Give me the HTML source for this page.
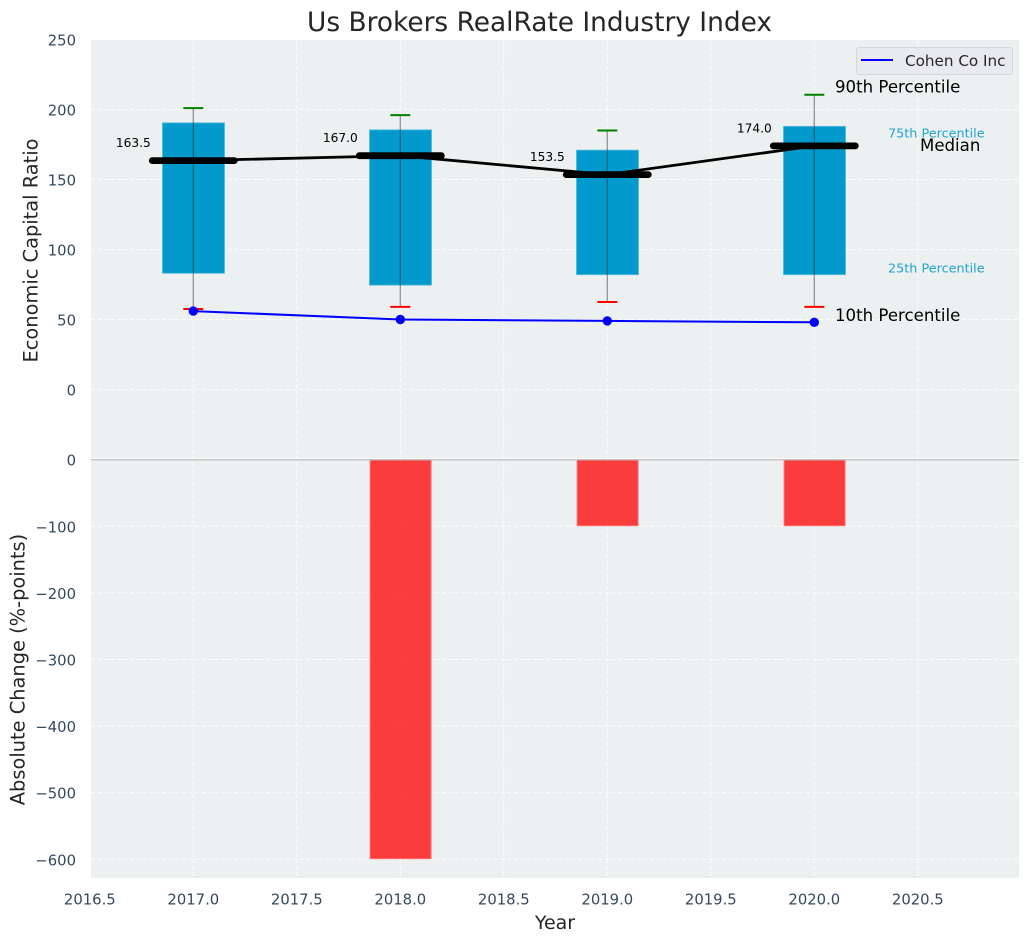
<!DOCTYPE html>
<html>
<head>
<meta charset="utf-8">
<title>Us Brokers RealRate Industry Index</title>
<style>
html,body{margin:0;padding:0;background:#fff;}
svg{display:block;font-family:"DejaVu Sans","Liberation Sans",sans-serif;}
</style>
</head>
<body>
<svg id="chart" xmlns="http://www.w3.org/2000/svg" width="1029" height="942" viewBox="0 0 1029 942">
  <rect x="0" y="0" width="1029" height="942" fill="#ffffff"/>
  <rect x="91" y="40" width="928" height="419.5" fill="#ecf0f1"/>
  <rect x="91" y="459.5" width="928" height="418.5" fill="#ecf0f1"/>
  <g id="grid"></g>
  <g id="ticks"></g>
  <g id="bars"></g>
  <g id="boxes"></g>
  <g id="lines"></g>
  <text x="539.5" y="31" font-size="26.4" fill="#262626" text-anchor="middle">Us Brokers RealRate Industry Index</text>
  <text transform="translate(37.5,250.5) rotate(-90)" font-size="19.4" fill="#262626" text-anchor="middle">Economic Capital Ratio</text>
  <text transform="translate(24.5,669.5) rotate(-90)" font-size="19.4" fill="#262626" text-anchor="middle">Absolute Change (%-points)</text>
  <text x="555" y="929" font-size="19" fill="#262626" text-anchor="middle">Year</text>
  <text x="835" y="92.5" font-size="16.6" fill="#000000">90th Percentile</text>
  <text x="835" y="321" font-size="16.6" fill="#000000">10th Percentile</text>
  <text x="888" y="137.5" font-size="12.8" fill="#1fa5d0">75th Percentile</text>
  <text x="888" y="272.5" font-size="12.8" fill="#1fa5d0">25th Percentile</text>
  <text x="920" y="151" font-size="16.6" fill="#000000">Median</text>
  <g>
    <rect x="856.5" y="47.5" width="156" height="27" rx="2.5" fill="#e9eaf0" stroke="#d6d6da" stroke-width="1"/>
    <line x1="861" y1="60" x2="893" y2="60" stroke="#0000ff" stroke-width="2"/>
    <text x="905" y="66" font-size="15.2" fill="#262626">Cohen Co Inc</text>
  </g>
</svg>
<script>
var years = [2017, 2018, 2019, 2020];
var p90 = [201, 196, 185, 210.5];
var p75 = [190.5, 185.5, 171, 188];
var medians = [163.5, 167, 153.5, 174];
var p25 = [83, 74.5, 82, 82];
var p10 = [57.5, 59, 62.5, 59];
var companyValues = [56, 50, 49, 48];
var absoluteChange = [0, -600, -100, -100];
var xTicks = [2016.5, 2017, 2017.5, 2018, 2018.5, 2019, 2019.5, 2020, 2020.5];
var topTicks = [0, 50, 100, 150, 200, 250];
var bottomTicks = [0, -100, -200, -300, -400, -500, -600];

var NS = 'http://www.w3.org/2000/svg';
var LEFT = 91, RIGHT = 1019, TOP = 40, MID = 459.5, BOTTOM = 878;
function xS(v) { return 193.3 + (v - 2017) * 207; }
function yTop(v) { return 389.5 - v * 1.4; }
function yBot(v) { return 459.7 - v * 0.666; }
function make(parentId, tag, props) {
  var n = document.createElementNS(NS, tag);
  for (var k in props) n.setAttribute(k, props[k]);
  document.getElementById(parentId).appendChild(n);
  return n;
}
function fmtTick(v) { return String(v).replace('-', '\u2212'); }

xTicks.forEach(function (t) {
  var x = xS(t);
  if (x >= LEFT) {
    var g = make('grid', 'line', {x1: x, x2: x, y1: TOP, y2: BOTTOM, stroke: '#ffffff', 'stroke-width': 1, 'stroke-dasharray': '4,2.5', opacity: 0.9});
    
    
  }
  var l = make('ticks', 'text', {x: x, y: 904.5, 'font-size': 14.8, fill: '#34495e', 'text-anchor': 'middle'});
  
  
  l.textContent = t.toFixed(1);
});
topTicks.forEach(function (t) {
  var y = yTop(t);
  var g = make('grid', 'line', {x1: LEFT, x2: RIGHT, y1: y, y2: y, stroke: '#ffffff', 'stroke-width': 1, 'stroke-dasharray': '4,2.5', opacity: 0.9});
  
  
  var l = make('ticks', 'text', {x: 76, y: y + 6, 'font-size': 14.8, fill: '#34495e', 'text-anchor': 'end'});
  
  
  l.textContent = fmtTick(t);
});
bottomTicks.forEach(function (t) {
  var y = yBot(t);
  if (t !== 0) {
    var g = make('grid', 'line', {x1: LEFT, x2: RIGHT, y1: y, y2: y, stroke: '#ffffff', 'stroke-width': 1, 'stroke-dasharray': '4,2.5', opacity: 0.9});
    
    
  }
  var l = make('ticks', 'text', {x: 76, y: y + 6, 'font-size': 14.8, fill: '#34495e', 'text-anchor': 'end'});
  
  
  l.textContent = fmtTick(t);
});
var sep = make('grid', 'line', {x1: LEFT, x2: RIGHT, y1: 458.6, y2: 458.6, stroke: '#ffffff', 'stroke-width': 1.2});



years.forEach(function (yr, i) {
  var v = absoluteChange[i];
  var y0 = yBot(0), y1 = yBot(v);
  var w = 0.3 * 207 - 1.2;
  var b = make('bars', 'rect', {x: xS(yr) - w / 2 + 0.3, y: y0, width: w, height: Math.abs(y1 - y0) - 0.6, fill: '#ff0000', 'fill-opacity': 0.75, stroke: '#ff6f6f', 'stroke-width': 1});
  
  
});
var zero = make('bars', 'line', {x1: LEFT, x2: RIGHT, y1: yBot(0), y2: yBot(0), stroke: '#c0c2c4', 'stroke-width': 1.3});



years.forEach(function (yr, i) {
  var x = xS(yr);
  var w = 0.3 * 207;
  var box = make('boxes', 'rect', {x: x - w / 2 + 0.2, y: yTop(p75[i]), width: w, height: yTop(p25[i]) - yTop(p75[i]), fill: '#029acc', stroke: '#5fc0de', 'stroke-width': 0.8});
  
  
  var wh = make('boxes', 'line', {x1: x, x2: x, y1: yTop(p90[i]), y2: yTop(p10[i]), stroke: '#333333', 'stroke-width': 1.3, opacity: 0.5});
  
  
  var hi = make('boxes', 'line', {x1: x - 10, x2: x + 10, y1: yTop(p90[i]), y2: yTop(p90[i]), stroke: '#008000', 'stroke-width': 2});
  
  
  var lo = make('boxes', 'line', {x1: x - 10, x2: x + 10, y1: yTop(p10[i]), y2: yTop(p10[i]), stroke: '#ff0000', 'stroke-width': 2});
  
  
});

var medianPts = years.map(function (yr, i) { return xS(yr) + ',' + yTop(medians[i]); }).join(' ');
var medLine = make('lines', 'polyline', {points: medianPts, fill: 'none', stroke: '#000000', 'stroke-width': 2.8});


years.forEach(function (yr, i) {
  var x = xS(yr), y = yTop(medians[i]);
  var m = make('lines', 'line', {x1: x - 41, x2: x + 41, y1: y, y2: y, stroke: '#000000', 'stroke-width': 6.8, 'stroke-linecap': 'round'});
  
  
  var t = make('lines', 'text', {x: x - 42.5, y: y - 13.5, 'font-size': 12.2, fill: '#000000', 'text-anchor': 'end'});
  
  
  t.textContent = medians[i].toFixed(1);
});

var blueLinePts = years.map(function (yr, i) { return xS(yr) + ',' + yTop(companyValues[i]); }).join(' ');
var blue = make('lines', 'polyline', {points: blueLinePts, fill: 'none', stroke: '#0000ff', 'stroke-width': 2});


years.forEach(function (yr, i) {
  var c = make('lines', 'circle', {cx: xS(yr), cy: yTop(companyValues[i]), r: 4.7, fill: '#0000ff'});
  
  
});
</script>
</body>
</html>
